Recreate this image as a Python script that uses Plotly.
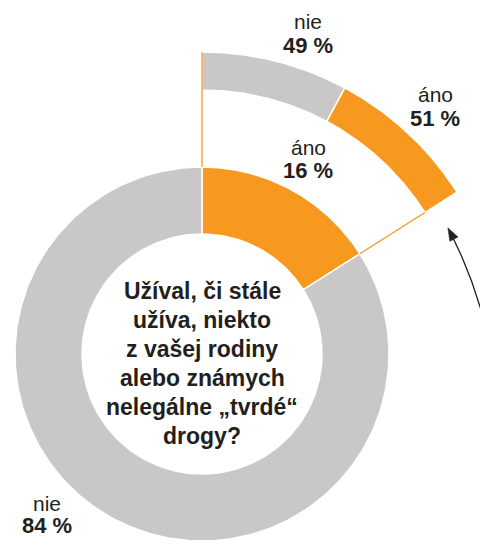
import numpy as np
import plotly.graph_objects as go

# ---- data ----
inner_labels = ["áno", "nie"]
inner_values = [16, 84]
outer_labels = ["nie", "áno"]          # breakdown of the inner "áno" share
outer_values = [49, 51]
question_lines = ["Užíval, či stále", "užíva, niekto", "z vašej rodiny",
                  "alebo známych", "nelegálne „tvrdé“", "drogy?"]

# ---- style / layout ----
ORANGE = "#F7991F"
GRAY = "#C9C8C6"
TEXT = "#231F20"
FONT = "Liberation Sans, Arial, Helvetica, sans-serif"
colors = {"áno": ORANGE, "nie": GRAY}
R_IN0, R_IN1 = 120, 187
R_OUT0, R_OUT1 = 264, 302
PAGE_OFF = 8                 # default body margin of the html page
W, H = 488 - PAGE_OFF, 549 - 2 * PAGE_OFF
CX, CY = 202 - PAGE_OFF, 354 - PAGE_OFF

# label positions (x centre, y of first line, y of second line) relative to centre
inner_pos = {"áno": (106, 207, 184), "nie": (-155, -149, -171)}
outer_pos = {"nie": (106, 333, 309), "áno": (233, 260, 236)}
Q_TOP, Q_STEP = 63, 29


def wedge(a0, a1, r0, r1, n=240):
    t = np.radians(np.linspace(a0, a1, n))
    tb = t[::-1]
    x = np.concatenate([r1 * np.sin(t), r0 * np.sin(tb), [r1 * np.sin(t[0])]])
    y = np.concatenate([r1 * np.cos(t), r0 * np.cos(tb), [r1 * np.cos(t[0])]])
    return x, y


fig = go.Figure()

# inner ring
tot = sum(inner_values)
ang = 0.0
span = None
for lab, val in zip(inner_labels, inner_values):
    a1 = ang + 360.0 * val / tot
    x, y = wedge(ang, a1, R_IN0, R_IN1)
    fig.add_trace(go.Scatter(x=x, y=y, mode="lines", fill="toself",
                             fillcolor=colors[lab], line=dict(color="white", width=1.5),
                             hoverinfo="skip", showlegend=False))
    if lab == "áno":
        span = (ang, a1)
    ang = a1

# outer ring, spanning the inner "áno" sector
s0, s1 = span
otot = sum(outer_values)
ang = s0
for lab, val in zip(outer_labels, outer_values):
    a1 = ang + (s1 - s0) * val / otot
    x, y = wedge(ang, a1, R_OUT0, R_OUT1)
    fig.add_trace(go.Scatter(x=x, y=y, mode="lines", fill="toself",
                             fillcolor=colors[lab], line=dict(color="white", width=1.5),
                             hoverinfo="skip", showlegend=False))
    ang = a1

# connector lines
t0, t1 = np.radians(s0), np.radians(s1)
fig.add_trace(go.Scatter(x=[R_IN1 * np.sin(t0), R_OUT1 * np.sin(t0)],
                         y=[R_IN1 * np.cos(t0), R_OUT1 * np.cos(t0)],
                         mode="lines", line=dict(color=ORANGE, width=1.3),
                         hoverinfo="skip", showlegend=False))
fig.add_trace(go.Scatter(x=[R_IN1 * np.sin(t1), R_OUT0 * np.sin(t1)],
                         y=[R_IN1 * np.cos(t1), R_OUT0 * np.cos(t1)],
                         mode="lines", line=dict(color=ORANGE, width=1.3),
                         hoverinfo="skip", showlegend=False))

# curved arrow (decorative)
acx, acy, ar = -140.1, -77.2, 436.3
tip_a = np.radians(27.8)
head_len, head_w = 13, 4.6
arc = np.radians(np.linspace(-17, 27.8 - np.degrees(head_len / ar) + 0.3, 200))
fig.add_trace(go.Scatter(x=acx + ar * np.cos(arc), y=acy + ar * np.sin(arc),
                         mode="lines", line=dict(color=TEXT, width=1.3),
                         hoverinfo="skip", showlegend=False))
tip = np.array([acx + ar * np.cos(tip_a), acy + ar * np.sin(tip_a)])
d = np.array([-np.sin(tip_a), np.cos(tip_a)])
p = np.array([d[1], -d[0]])
base = tip - head_len * d
tri = np.array([tip, base + head_w * p, base - head_w * p, tip])
fig.add_trace(go.Scatter(x=tri[:, 0], y=tri[:, 1], mode="lines", fill="toself",
                         fillcolor=TEXT, line=dict(color=TEXT, width=0.5),
                         hoverinfo="skip", showlegend=False))

# labels
ann = []


def add_label(lab, val, pos):
    x, y1, y2 = pos
    ann.append(dict(x=x, y=y1, text=lab, showarrow=False, yanchor="middle",
                    font=dict(family=FONT, size=21, color=TEXT)))
    ann.append(dict(x=x, y=y2, text=f"<b>{val} %</b>", showarrow=False, yanchor="middle",
                    font=dict(family=FONT, size=22, color=TEXT)))


for lab, val in zip(inner_labels, inner_values):
    add_label(lab, val, inner_pos[lab])
for lab, val in zip(outer_labels, outer_values):
    add_label(lab, val, outer_pos[lab])
for i, line in enumerate(question_lines):
    ann.append(dict(x=0, y=Q_TOP - i * Q_STEP, text=f"<b>{line}</b>", showarrow=False,
                    yanchor="middle", font=dict(family=FONT, size=23, color=TEXT)))

fig.update_layout(
    width=W, height=H, margin=dict(l=0, r=0, t=0, b=0),
    paper_bgcolor="white", plot_bgcolor="white",
    xaxis=dict(range=[-CX, W - CX], visible=False, fixedrange=True),
    yaxis=dict(range=[CY - H, CY], visible=False, fixedrange=True),
    annotations=ann, showlegend=False,
)
fig.write_html("out.html")
